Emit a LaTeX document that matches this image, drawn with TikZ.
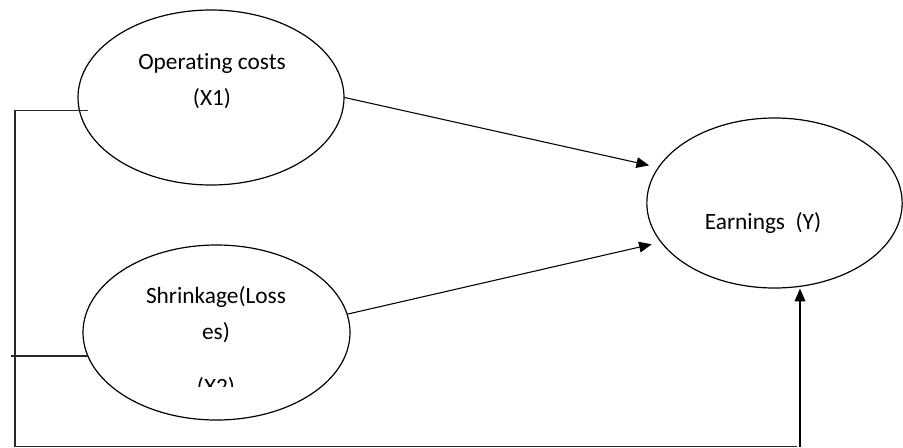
\documentclass[tikz,border=0pt]{standalone}
\usepackage{fontspec}
\setmainfont{Carlito}[Ligatures=NoCommon]
\usetikzlibrary{arrows.meta,shapes.geometric}

\tikzset{every picture/.style={line width=0.75pt}}
\tikzset{
	var/.style={draw, ellipse, inner sep=0pt, line width=0.9pt},
	lbl/.style={align=center, font=\fontsize{17.5}{26.5}\selectfont},
	conn/.style={-{Triangle[length=9.5pt,width=8pt]}, line width=0.8pt},
	bracket/.style={line width=0.8pt, draw={rgb, 255:red, 40; green, 40; blue, 40 }}}

\begin{document}
\begin{tikzpicture}[x=0.75pt,y=0.75pt,yscale=-1,xscale=1]
	\useasboundingbox (0,0) rectangle (903,447);

	%Shape: Ellipse [id:cost]
	\node [var, minimum width=199.5pt, minimum height=131.25pt] (cost) at (211,97.5) {};
	%Shape: Ellipse [id:loss]
	\node [var, minimum width=200.25pt, minimum height=131.25pt] (loss) at (216.5,332.5) {};
	%Shape: Ellipse [id:earn]
	\node [var, minimum width=191.5pt, minimum height=127.5pt] (earn) at (774.5,203) {};

	% Text Node
	\node [lbl] (costtxt) at (212,81) {Operating costs\\(X1)};
	% Text Node
	\node [lbl] (losstxt) at (216,314.5) {Shrinkage(Loss\\es)};
	% Text Node (cut off at its lower half)
	\begin{scope}
		\clip (120,360) rectangle (320,386);
		\node [lbl] (x2txt) at (216,388) {(X2)};
	\end{scope}
	% Text Node
	\node [lbl] (earntxt) at (763,223) {Earnings\ \ (Y)};

	%Free ends of the left bracket
	\coordinate (costend) at (88,110.7);
	\coordinate (lossend) at (88,356);
	\coordinate (lossfree) at (11,356);
	\coordinate (corner) at (15,446.5);
	\coordinate (foot) at (800,446.5);

	%Straight Lines [id:bracket]
	\draw [bracket] (costend) -| (15,447);
	\draw [bracket] (lossend) -- (lossfree);
	\draw [bracket] (corner) -- (797,446.5);

	%Straight Lines [id:arrows]
	\draw [conn, shorten >=6.75pt] (cost.east) -- (earn.163);
	\draw [conn, shorten >=6.75pt] (loss.8) -- (earn.199);
	\draw [conn] (foot) -- (foot |- earn.south);

\end{tikzpicture}
\end{document}
